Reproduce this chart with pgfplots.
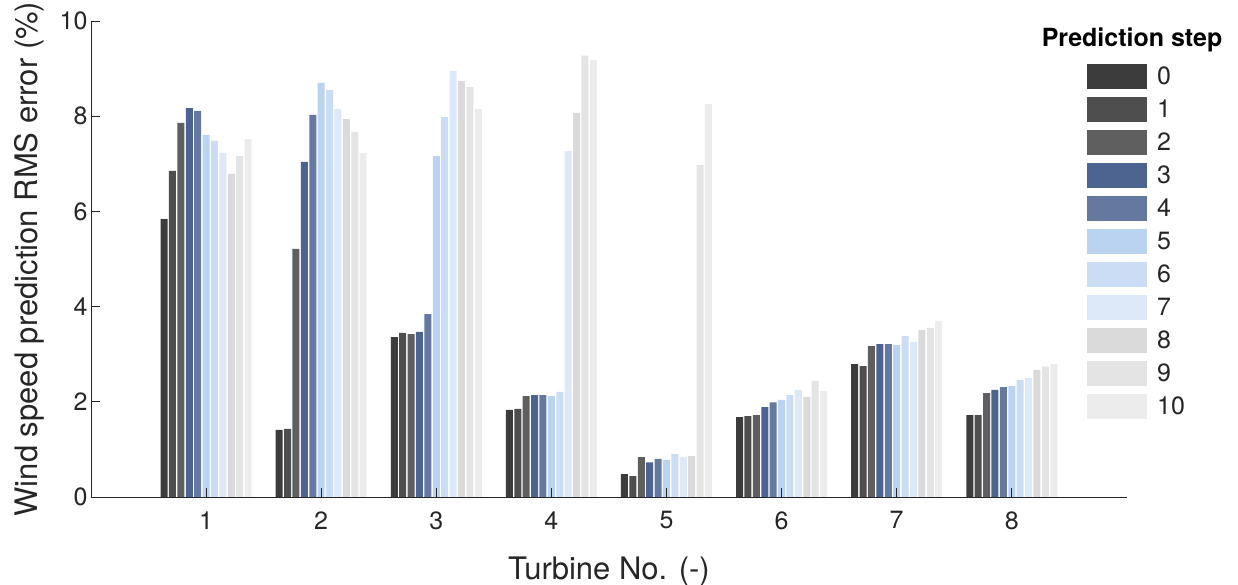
\documentclass[border=0pt]{standalone}
\usepackage{pgfplots}
\usepackage{pgfplotstable}
\pgfplotsset{compat=1.18}
\usepackage{fontspec}
\setmainfont{TeX Gyre Heros}

\definecolor{c0}{HTML}{3C3C3C}
\definecolor{c1}{HTML}{4E4E4E}
\definecolor{c2}{HTML}{5F5F5F}
\definecolor{c3}{HTML}{4D6390}
\definecolor{c4}{HTML}{6478A0}
\definecolor{c5}{HTML}{B9D3F0}
\definecolor{c6}{HTML}{CBDDF4}
\definecolor{c7}{HTML}{DDE9F9}
\definecolor{c8}{HTML}{DADADA}
\definecolor{c9}{HTML}{E4E4E4}
\definecolor{c10}{HTML}{ECECEC}
\definecolor{axc}{HTML}{262626}

\pgfplotstableread{
x s0 s1 s2 s3 s4 s5 s6 s7 s8 s9 s10
1 5.84 6.85 7.86 8.17 8.11 7.61 7.48 7.23 6.79 7.16 7.52
2 1.41 1.43 5.21 7.04 8.03 8.70 8.55 8.15 7.94 7.67 7.23
3 3.36 3.45 3.42 3.47 3.84 7.16 7.98 8.95 8.74 8.61 8.15
4 1.83 1.85 2.12 2.14 2.14 2.12 2.21 7.27 8.07 9.27 9.18
5 0.48 0.44 0.84 0.73 0.80 0.78 0.90 0.84 0.86 6.97 8.26
6 1.68 1.70 1.72 1.89 1.99 2.04 2.14 2.25 2.10 2.44 2.23
7 2.79 2.75 3.17 3.21 3.21 3.19 3.38 3.26 3.51 3.55 3.70
8 1.72 1.72 2.18 2.25 2.31 2.33 2.46 2.50 2.67 2.74 2.79
}\datatable

\begin{document}
\begin{tikzpicture}
\begin{axis}[
  scale only axis,
  width=1036pt, height=476pt,
  xmin=0, xmax=9, ymin=0, ymax=10,
  ybar=1.4pt, bar width=7pt,
  axis x line*=bottom, axis y line*=left,
  axis line style={axc, line width=0.7pt, -},
  axis on top,
  tick align=inside,
  major tick length=9pt,
  tick style={axc, line width=0.7pt},
  xtick={1,2,3,4,5,6,7,8},
  ytick={0,2,4,6,8,10},
  /pgf/number format/assume math mode=true,
  ticklabel style={font=\fontsize{25}{30}\selectfont, text=axc},
  xticklabel style={yshift=-11pt},
  label style={font=\fontsize{31}{37}\selectfont, text=axc},
  xlabel={Turbine No. (-)},
  ylabel={Wind speed prediction RMS error (\%)},
  xlabel shift=20pt,
  ylabel shift=9pt,
  clip=false,
  every axis plot post/.append style={draw=none,
    legend image code/.code={\fill[##1] (0pt,-12.5pt) rectangle (60pt,12.5pt);}},
  legend style={draw=none, fill=none, inner sep=0pt,
    at={(rel axis cs:0.9614,0.9095)}, anchor=north west,
    font=\fontsize{25}{30}\selectfont, text=axc,
    row sep=8pt, nodes={inner sep=1pt},
    /tikz/every odd column/.append style={column sep=9pt}},
  legend cell align=left,
]
\addplot[fill=c0] table[x=x,y=s0]{\datatable};
\addplot[fill=c1] table[x=x,y=s1]{\datatable};
\addplot[fill=c2] table[x=x,y=s2]{\datatable};
\addplot[fill=c3] table[x=x,y=s3]{\datatable};
\addplot[fill=c4] table[x=x,y=s4]{\datatable};
\addplot[fill=c5] table[x=x,y=s5]{\datatable};
\addplot[fill=c6] table[x=x,y=s6]{\datatable};
\addplot[fill=c7] table[x=x,y=s7]{\datatable};
\addplot[fill=c8] table[x=x,y=s8]{\datatable};
\addplot[fill=c9] table[x=x,y=s9]{\datatable};
\addplot[fill=c10] table[x=x,y=s10]{\datatable};
\legend{0,1,2,3,4,5,6,7,8,9,10}
\node[font=\fontsize{25}{30}\selectfont\bfseries, text=black] at (rel axis cs:1.005,0.960) {Prediction step};
\coordinate (O) at (rel axis cs:0,0);
\end{axis}
\pgfresetboundingbox
\path ([shift={(-91pt,-88pt)}]O) rectangle ++(1238pt,585pt);
\end{tikzpicture}
\end{document}
